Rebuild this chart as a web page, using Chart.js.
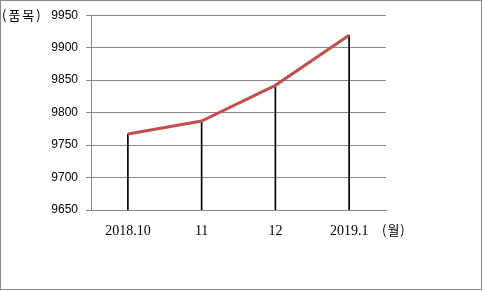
<!DOCTYPE html>
<html><head><meta charset="utf-8">
<script src="https://cdn.jsdelivr.net/npm/chart.js@4/dist/chart.umd.min.js"></script>
<style>html,body{margin:0;padding:0;background:#fff}#wrap{width:483px;height:291px;position:relative}</style>
</head><body><div id="wrap"><canvas id="c" width="483" height="291"></canvas></div>
<script>
const categories = ['2018.10', '11', '12', '2019.1'];
const values = [9767, 9787, 9842, 9919];
const yTicks = [9650, 9700, 9750, 9800, 9850, 9900, 9950];
const yUnit = '(품목)';
const xUnit = '(월)';

const frame = {
  id: 'frame',
  afterDraw(chart) {
    const ctx = chart.ctx;
    ctx.save();
    ctx.strokeStyle = '#888888';
    ctx.lineWidth = 1;
    ctx.strokeRect(0.5, 0.5, 481, 289);
    ctx.fillStyle = '#000';
    ctx.textBaseline = 'middle';
    ctx.textAlign = 'left';
    ctx.font = '13px "Noto Sans CJK KR"';
    ctx.letterSpacing = '2px';
    const y = chart.scales.y;
    ctx.fillText(yUnit, 2, y.getPixelForValue(9950));
    ctx.letterSpacing = '1px';
    ctx.fillText(xUnit, 382, 230);
    ctx.restore();
  }
};

new Chart(document.getElementById('c'), {
  data: {
    labels: categories,
    datasets: [
      { type: 'line', data: values, borderColor: '#c0504d', borderWidth: 3, pointRadius: 0, tension: 0, order: 0 },
      { type: 'bar', data: values, backgroundColor: '#000', barThickness: 1, order: 1 }
    ]
  },
  options: {
    responsive: false, animation: false,
    layout: { padding: { left: 0, top: 15, right: 97, bottom: 51 } },
    plugins: { legend: { display: false }, tooltip: { enabled: false } },
    scales: {
      x: {
        offset: true,
        grid: { display: false, drawTicks: false },
        border: { display: true, color: '#888888', width: 1 },
        ticks: { color: '#000', font: { family: '"Liberation Serif"', size: 14 }, padding: 13, maxRotation: 0 },
        afterFit(s) { s.height = 30; }
      },
      y: {
        min: 9650, max: 9950,
        afterBuildTicks(s) { s.ticks = yTicks.map(v => ({ value: v })); },
        grid: { color: '#888888', lineWidth: 1, tickLength: 5, drawTicks: true },
        border: { display: true, color: '#888888', width: 1 },
        ticks: { color: '#000', font: { family: '"Liberation Sans"', size: 12 }, padding: 8, callback: v => String(v) },
        afterFit(s) { s.width = 91; }
      }
    }
  },
  plugins: [frame]
});
</script></body></html>
